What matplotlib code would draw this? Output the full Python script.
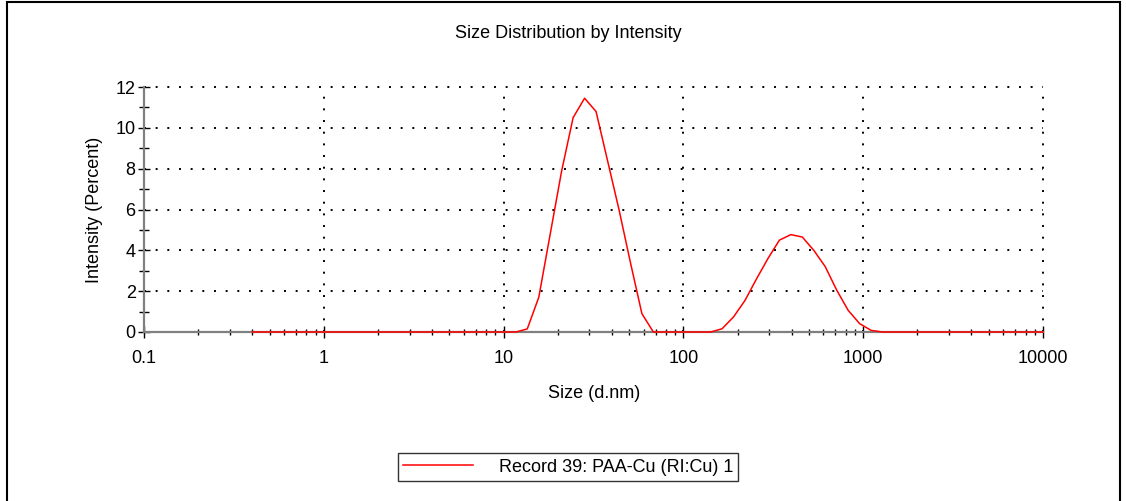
import matplotlib
matplotlib.use("Agg")
from matplotlib import pyplot as plt
from matplotlib.patches import Rectangle
from matplotlib.ticker import FixedLocator, NullFormatter
import numpy as np

plt.rcParams["font.family"] = ["Liberation Sans", "DejaVu Sans"]

# Malvern size bins (d.nm) and intensity (%)
sizes = [0.4, 0.4632, 0.5365, 0.6213, 0.7195, 0.8332, 0.9649, 1.117, 1.294, 1.499,
         1.736, 2.010, 2.328, 2.696, 3.122, 3.615, 4.187, 4.849, 5.615, 6.503,
         7.531, 8.721, 10.10, 11.70, 13.54, 15.69, 18.17, 21.04, 24.36, 28.21,
         32.67, 37.84, 43.82, 50.75, 58.77, 68.06, 78.82, 91.28, 105.7, 122.4,
         141.8, 164.2, 190.1, 220.2, 255.0, 295.3, 342.0, 396.1, 458.7, 531.2,
         615.1, 712.4, 825.0, 955.4, 1106, 1281, 1484, 1718, 1990, 2305,
         2669, 3091, 3580, 4145, 4801, 5560, 6439, 7456, 8635, 10000]
intensity = [0, 0, 0, 0, 0, 0, 0, 0, 0, 0,
             0, 0, 0, 0, 0, 0, 0, 0, 0, 0,
             0, 0, 0, 0, 0.15, 1.7, 4.8, 7.9, 10.5, 11.45,
             10.8, 8.4, 6.0, 3.4, 0.9, 0, 0, 0, 0, 0,
             0, 0.16, 0.74, 1.55, 2.6, 3.6, 4.5, 4.77, 4.65, 4.0,
             3.2, 2.05, 1.06, 0.41, 0.08, 0, 0, 0, 0, 0,
             0, 0, 0, 0, 0, 0, 0, 0, 0, 0]

title = "Size Distribution by Intensity"
x_label = "Size (d.nm)"
y_label = "Intensity (Percent)"
legend_label = "Record 39: PAA-Cu (RI:Cu) 1"
x_ticks = [0.1, 1, 10, 100, 1000, 10000]
x_tick_labels = ["0.1", "1", "10", "100", "1000", "10000"]
y_ticks = [0, 2, 4, 6, 8, 10, 12]

W, H = 1126, 501
fs = 13
fig = plt.figure(figsize=(W / 100, H / 100), dpi=100)
ax = fig.add_axes([144 / W, 1 - 332 / H, (1043 - 144) / W, (332 - 87) / H])

line, = ax.plot(sizes, intensity, color="#ff0000", linewidth=1.1, zorder=3,
                clip_on=False)
ax.set_xscale("log")
ax.set_xlim(0.1, 10000)
ax.set_ylim(0, 12)

ax.set_xticks(x_ticks)
ax.set_xticklabels(x_tick_labels, fontsize=fs)
ax.xaxis.set_minor_locator(FixedLocator(
    [m * 10.0 ** e for e in range(-1, 4) for m in range(2, 10)]))
ax.xaxis.set_minor_formatter(NullFormatter())
ax.set_yticks(y_ticks)
ax.set_yticklabels([str(v) for v in y_ticks], fontsize=fs)
ax.yaxis.set_minor_locator(FixedLocator(np.arange(1, 12, 2)))

ax.tick_params(axis="both", which="major", direction="inout", length=8,
               width=1, color="black", pad=2)
ax.tick_params(axis="x", which="major", pad=9)
ax.tick_params(axis="y", which="minor", direction="inout", length=7,
               width=1, color="black")
ax.tick_params(axis="x", which="minor", direction="inout", length=5,
               width=1, color="black")

for s in ["top", "right"]:
    ax.spines[s].set_visible(False)
for s in ["left", "bottom"]:
    ax.spines[s].set_color("#808080")
    ax.spines[s].set_linewidth(1.6)

# dotted grid
for yv in y_ticks[1:]:
    ax.axhline(yv, color="black", linestyle=(0, (1, 5)), linewidth=1.4, zorder=1,
               clip_on=False)
for xv in x_ticks[1:]:
    ax.axvline(xv, color="black", linestyle=(0, (1, 5)), linewidth=1.4, zorder=1,
               clip_on=False)

fig.text(568 / W, 1 - 34 / H, title, ha="center", va="center", fontsize=fs)
fig.text(594 / W, 1 - 394 / H, x_label, ha="center", va="center", fontsize=fs)
fig.text(95 / W, 1 - 210 / H, y_label, ha="center", va="center", fontsize=fs,
         rotation=90)

leg = fig.legend([line], [legend_label], loc="center",
                 bbox_to_anchor=(568 / W, 1 - 467 / H), fontsize=fs,
                 frameon=True, fancybox=False, handlelength=3.9,
                 handletextpad=1.4, borderpad=0.3)
leg.get_frame().set_edgecolor("black")
leg.get_frame().set_linewidth(1.0)

# outer frame (open at the bottom)
fig.patches.append(Rectangle((7 / W, -0.1), (1120 - 7) / W, 1.1 - 2 / H,
                             transform=fig.transFigure, fill=False,
                             edgecolor="black", linewidth=1.5))

fig.savefig("out.png", dpi=100)
